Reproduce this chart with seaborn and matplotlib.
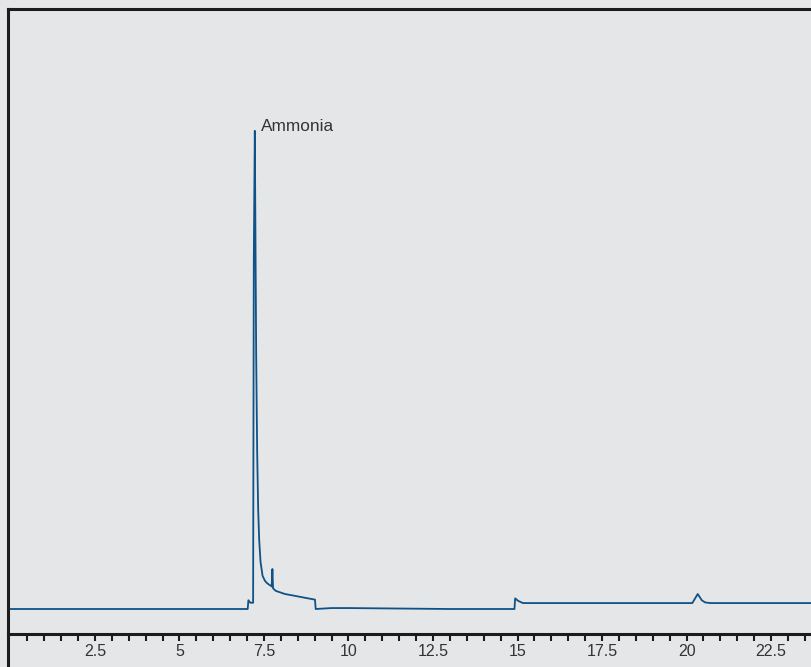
import matplotlib
matplotlib.use("Agg")
import matplotlib.pyplot as plt
from matplotlib.lines import Line2D
import numpy as np
import pandas as pd
import seaborn as sns

# Retention time (min) and detector signal (arbitrary units) of the chromatogram
time_min = [0.00, 1.00, 2.00, 3.00, 4.00, 5.00, 6.00, 7.02, 7.04, 7.10, 7.18,
            7.20, 7.23, 7.27, 7.30, 7.33, 7.36, 7.40, 7.46, 7.53, 7.60, 7.68,
            7.73, 7.75, 7.77, 7.85, 8.12, 8.42, 8.71, 9.01, 9.03, 9.50, 10.0,
            11.0, 12.0, 13.0, 14.0, 14.91, 14.93, 15.02, 15.16, 16.0, 17.0,
            18.0, 19.0, 20.17, 20.33, 20.45, 20.55, 20.70, 21.5, 22.5, 23.71]
signal = [4.0, 4.0, 4.0, 4.0, 4.0, 4.0, 4.0, 4.0, 5.4, 5.0, 5.0,
          60.0, 80.5, 45.0, 29.0, 19.8, 15.0, 11.5, 9.3, 8.5, 8.1, 7.8,
          7.6, 10.4, 7.3, 6.9, 6.4, 6.1, 5.8, 5.5, 4.0, 4.15, 4.15,
          4.1, 4.05, 4.0, 4.0, 4.0, 5.7, 5.3, 4.95, 4.95, 4.95,
          4.95, 4.95, 4.95, 6.4, 5.4, 5.05, 4.95, 4.95, 4.95, 4.95]
peak_name = "Ammonia"
peak_time = 7.23
peak_signal = 80.5
x_ticks = [2.5, 5, 7.5, 10, 12.5, 15, 17.5, 20, 22.5]
x_tick_labels = ["2.5", "5", "7.5", "10", "12.5", "15", "17.5", "20", "22.5"]

df = pd.DataFrame({"time": time_min, "signal": signal})

bg = "#e5e6e8"
frame = "#1c1c1c"
line_color = "#0f5287"

sns.set_style("white")
plt.rcParams["font.family"] = ["Liberation Sans", "DejaVu Sans"]

W, H = 812, 667
fig = plt.figure(figsize=(W / 100, H / 100), dpi=100, facecolor=bg)
left_px, top_px, bottom_px = 8, 9, 634
ax = fig.add_axes([left_px / W, (H - bottom_px) / H, 1 - left_px / W,
                   (bottom_px - top_px) / H])
ax.set_facecolor(bg)

sns.lineplot(data=df, x="time", y="signal", ax=ax, color=line_color,
             linewidth=1.3, estimator=None, sort=False)

ax.set_xlim(-0.07, 23.71)
ax.set_ylim(0, 100)
ax.set_xlabel("")
ax.set_ylabel("")
ax.set_yticks([])
ax.set_xticks(x_ticks)
ax.set_xticklabels(x_tick_labels)
ax.set_xticks(np.arange(0.5, 23.6, 0.5), minor=True)
ax.tick_params(axis="x", which="both", direction="out", length=5, width=1.5,
               color=frame, labelsize=11.5, labelcolor="#333333", pad=2.5,
               bottom=True)

for side in ("left", "top", "bottom"):
    ax.spines[side].set_color(frame)
    ax.spines[side].set_linewidth(2.2)
ax.spines["right"].set_visible(False)

# left frame line continues below the time axis
fig.add_artist(Line2D([left_px / W, left_px / W], [0, (H - bottom_px) / H],
                      transform=fig.transFigure, color=frame, linewidth=2.2))

ax.annotate(peak_name, xy=(peak_time, peak_signal), xytext=(6, 0),
            textcoords="offset pixels", ha="left", va="baseline",
            fontsize=12.4, color="#333333")

fig.savefig("out.png", dpi=100, facecolor=bg)
